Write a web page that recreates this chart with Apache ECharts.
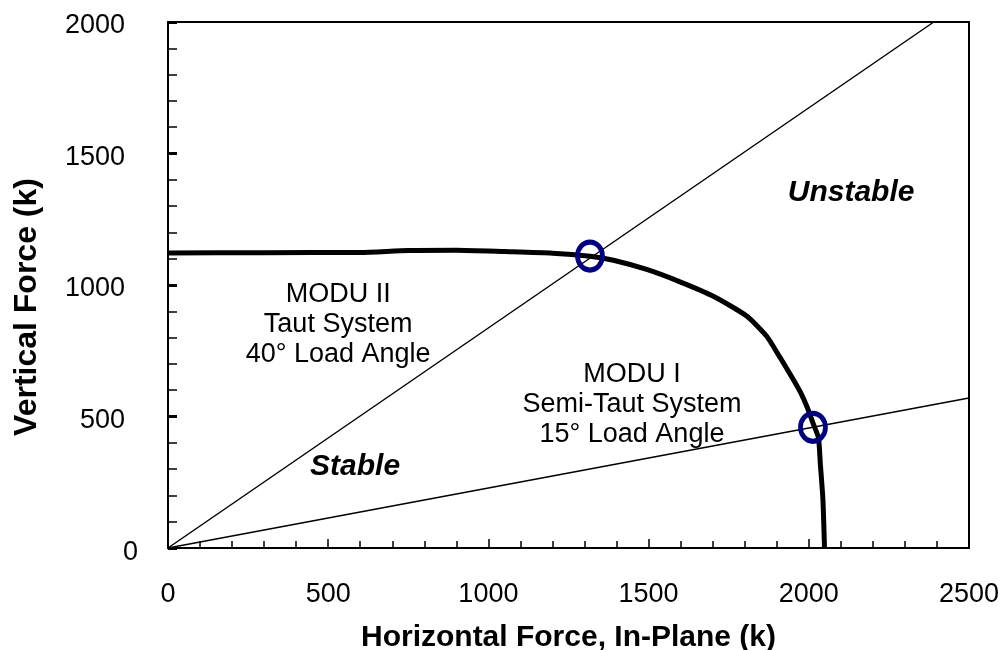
<!DOCTYPE html>
<html>
<head>
<meta charset="utf-8">
<script src="https://cdn.jsdelivr.net/npm/echarts@6/dist/echarts.min.js"></script>
<style>
  html, body { margin: 0; padding: 0; background: #fff; }
  #chart { width: 1005px; height: 650px; }
</style>
</head>
<body>
<div id="chart"></div>
<script>
// Mooring stability envelope: horizontal (in-plane) vs vertical force, kips
const capacityCurve = [
  [0, 1122], [300, 1123], [600, 1124], [750, 1131], [900, 1132], [1050, 1127],
  [1200, 1121], [1317, 1109], [1390, 1094], [1494, 1059], [1598, 1012],
  [1702, 957], [1806, 882], [1868, 806], [1910, 725], [1952, 640], [1975, 590],
  [1995, 535], [2013, 475], [2030, 420], [2036, 320], [2044, 186], [2049, 0]
];
const loadLine40 = [[0, 0], [2390, 2000]];
const loadLine15 = [[0, 0], [2500, 570]];
const intersections = [[1317, 1110], [2013, 459]];

const xRange = [0, 2500, 500];
const yRange = [0, 2000, 500];

const systemNotes = [
  { name: 'MODU II\nTaut System\n40° Load Angle', value: [531, 850] },
  { name: 'MODU I\nSemi-Taut System\n15° Load Angle', value: [1448, 547] }
];
const regionNames = [
  { name: 'Stable', value: [584, 309] },
  { name: 'Unstable', value: [2132, 1349] }
];

const xTitle = 'Horizontal Force, In-Plane (k)';
const yTitle = 'Vertical Force (k)';

const FONT = '"Liberation Sans", Arial, Helvetica, sans-serif';

const chart = echarts.init(document.getElementById('chart'), null, { renderer: 'canvas' });

chart.setOption({
  animation: false,
  backgroundColor: '#ffffff',
  textStyle: { fontFamily: FONT, color: '#000' },
  grid: {
    left: 168, right: 36, top: 22, bottom: 102,
    outerBoundsMode: 'none',
    containLabel: false,
    show: true, borderColor: '#000', borderWidth: 2, backgroundColor: 'transparent'
  },
  xAxis: {
    type: 'value',
    min: xRange[0], max: xRange[1], interval: xRange[2],
    name: xTitle,
    nameLocation: 'middle',
    nameGap: 75,
    nameTextStyle: { fontFamily: FONT, fontSize: 30, fontWeight: 'bold', color: '#000' },
    axisLine: { show: true, lineStyle: { color: '#000', width: 2 } },
    axisTick: { show: true, inside: true, length: 9, lineStyle: { color: '#000', width: 1.5 } },
    minorTick: { show: true, splitNumber: 5, length: 7, lineStyle: { color: '#000', width: 1.5 } },
    axisLabel: {
      fontFamily: FONT, fontSize: 27, color: '#000', margin: 33,
      formatter: v => String(v)
    },
    splitLine: { show: false }
  },
  yAxis: {
    type: 'value',
    min: yRange[0], max: yRange[1], interval: yRange[2],
    axisLine: { show: true, lineStyle: { color: '#000', width: 2 } },
    axisTick: { show: true, inside: true, length: 9, lineStyle: { color: '#000', width: 3 } },
    minorTick: { show: true, splitNumber: 5, length: 9, lineStyle: { color: '#000', width: 1.5 } },
    axisLabel: {
      fontFamily: FONT, fontSize: 27, color: '#000', margin: 30,
      formatter: v => v === 0 ? '{z|0}' : '{n|' + v + '}',
      rich: {
        z: { fontFamily: FONT, fontSize: 27, color: '#000', padding: [10, 0, 0, 0] },
        n: { fontFamily: FONT, fontSize: 27, color: '#000', padding: [8, 13, 0, 0] }
      }
    },
    splitLine: { show: false }
  },
  graphic: [{
    type: 'text',
    x: 27, y: 307,
    rotation: Math.PI / 2,
    style: {
      text: yTitle,
      fontFamily: FONT, fontSize: 32, fontWeight: 'bold', fill: '#000',
      align: 'center', verticalAlign: 'middle'
    }
  }],
  series: [
    {
      name: '40° load line', type: 'line', data: loadLine40,
      showSymbol: false, clip: false,
      lineStyle: { color: '#000', width: 1.5 }, z: 2
    },
    {
      name: '15° load line', type: 'line', data: loadLine15,
      showSymbol: false,
      lineStyle: { color: '#000', width: 1.5 }, z: 2
    },
    {
      name: 'Capacity', type: 'line', data: capacityCurve,
      showSymbol: false, smooth: 0.2,
      lineStyle: { color: '#000', width: 5 }, z: 3
    },
    {
      name: 'Intersections', type: 'scatter', data: intersections,
      symbol: 'circle', symbolSize: [25, 28],
      itemStyle: { color: 'rgba(0,0,0,0)', borderColor: '#000080', borderWidth: 5, opacity: 1 },
      z: 5
    },
    {
      name: 'Notes', type: 'scatter', data: systemNotes,
      symbolSize: 1, itemStyle: { color: 'rgba(0,0,0,0)', opacity: 1 },
      label: {
        show: true, position: 'inside', formatter: p => p.name,
        fontFamily: FONT, fontSize: 27, lineHeight: 30, color: '#000', opacity: 1, align: 'center'
      },
      z: 4
    },
    {
      name: 'Regions', type: 'scatter', data: regionNames,
      symbolSize: 1, itemStyle: { color: 'rgba(0,0,0,0)', opacity: 1 },
      label: {
        show: true, position: 'inside', formatter: p => p.name,
        fontFamily: FONT, fontSize: 30, fontWeight: 'bold', fontStyle: 'italic', color: '#000', opacity: 1
      },
      z: 4
    }
  ]
});
</script>
</body>
</html>
